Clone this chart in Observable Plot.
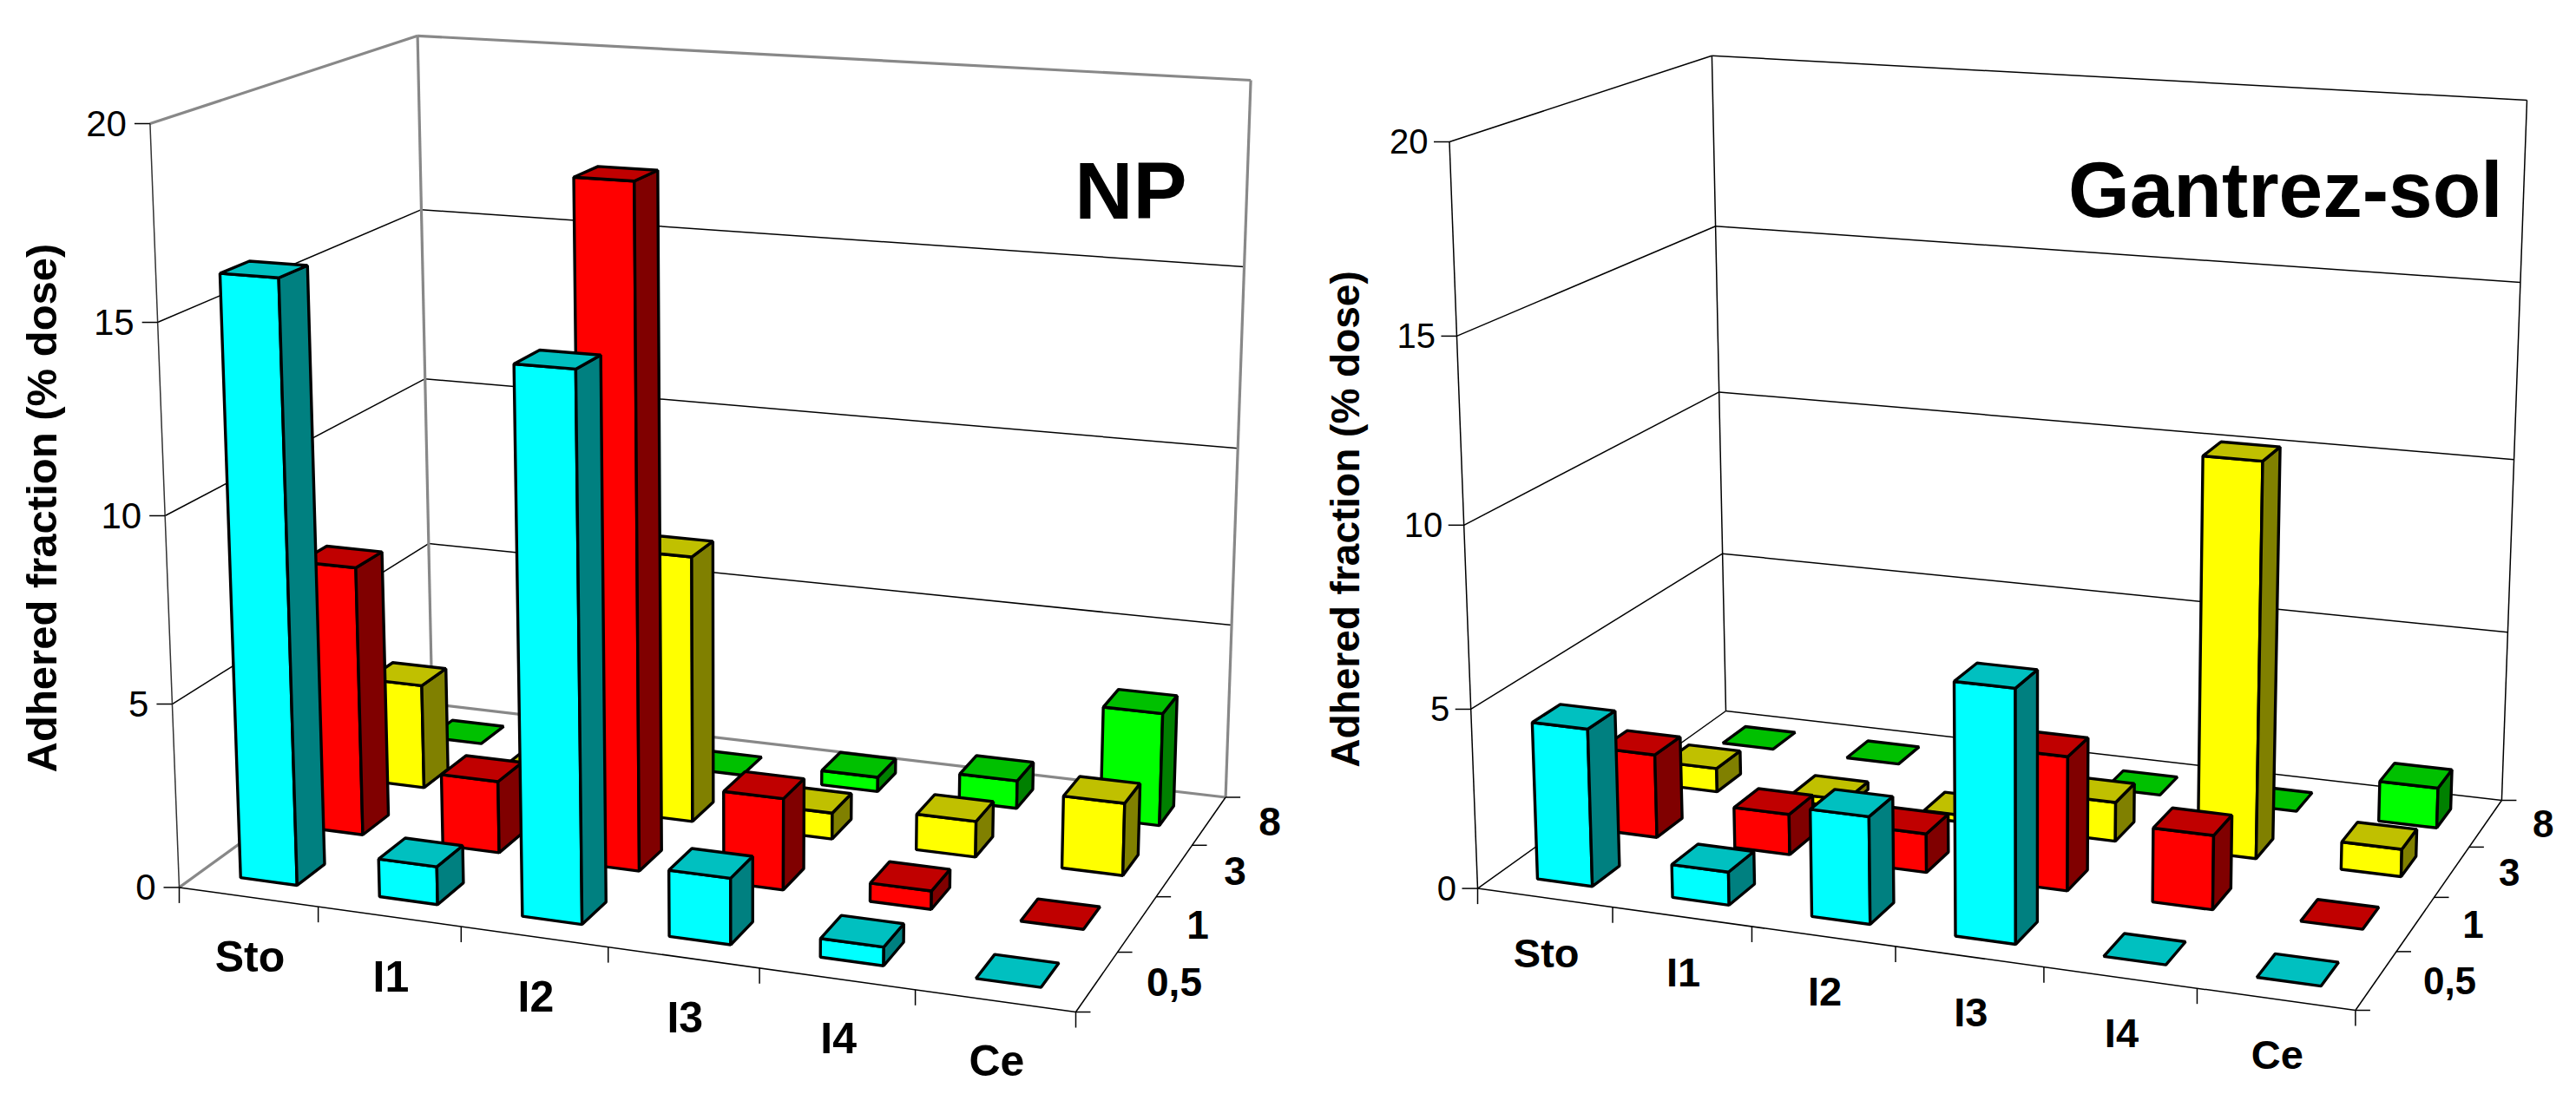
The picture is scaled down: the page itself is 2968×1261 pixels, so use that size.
<!DOCTYPE html>
<html>
<head>
<meta charset="utf-8">
<script src="https://cdn.jsdelivr.net/npm/d3@7"></script>
<script src="https://cdn.jsdelivr.net/npm/@observablehq/plot@0.6"></script>
<style>html,body{margin:0;padding:0;background:#fff}svg{display:block}</style>
</head>
<body>
<div id="chart"></div>
<script>
// ---- data (% dose) ----
const categories = ["Sto", "I1", "I2", "I3", "I4", "Ce"];
const depths = ["0,5", "1", "3", "8"];
const valueTicks = [0, 5, 10, 15, 20];
const yTitle = "Adhered fraction (% dose)";

const np05 = [16.1, 1.03, 14.4, 1.76, 0.49, 0];
const np1  = [7.5, 2.0, 18.35, 2.5, 0.5, 0];
const np3  = [3.0, 0.85, 7.5, 0.74, 1.0, 2.0];
const np8  = [0, 0, 0, 0.42, 0.8, 3.2];

const gs05 = [4.4, 0.92, 2.95, 6.85, 0, 0];
const gs1  = [2.4, 1.16, 1.1, 3.75, 2.06, 0];
const gs3  = [0.7, 0.23, 0.2, 1.13, 11.15, 0.78];
const gs8  = [0, 0, 0, 0, 0, 1.17];

// ---- face colours per depth row: front, top, side ----
const faces = [
  ["#00ffff", "#00c0c0", "#008080"],
  ["#ff0000", "#c00000", "#800000"],
  ["#ffff00", "#c0c000", "#808000"],
  ["#00ff00", "#00c000", "#008000"]
];

// ---- projective frame of each 3D box ----
// floor: front-left, front-right, back-right, back-left; top: front-left, back-right, back-left
function projector([A, B, C, D], [At, Ct, Dt], maxValue) {
  const sx = A[0] - B[0] + C[0] - D[0], sy = A[1] - B[1] + C[1] - D[1];
  const d1x = B[0] - C[0], d1y = B[1] - C[1], d2x = D[0] - C[0], d2y = D[1] - C[1];
  const det = d1x * d2y - d2x * d1y;
  const g = (sx * d2y - d2x * sy) / det, h = (d1x * sy - sx * d1y) / det;
  const wB = 1 + g, wC = 1 + g + h, wD = 1 + h;
  // top plane shares the floor's perspective, so its hidden corner follows from the other three
  const Bt = [0, 1].map((k) => (wC * Ct[k] - wD * Dt[k] + At[k]) / wB);
  const plane = (a, b, d, u, v) => [0, 1].map((k) =>
    (a[k] + u * (wB * b[k] - a[k]) + v * (wD * d[k] - a[k])) / (1 + g * u + h * v));
  const c = 1.055;
  return (u, v, value) => {
    const t = value / maxValue, f = t / (t + c * (1 - t));
    const p = plane(A, B, D, u, v), q = plane(At, Bt, Dt, u, v);
    return [p[0] + f * (q[0] - p[0]), p[1] + f * (q[1] - p[1])];
  };
}

const panels = [
  {
    title: "NP", rows: [np05, np1, np3, np8],
    floor: [[206, 1022.4], [1239, 1166], [1411.6, 918.5], [497.4, 811]],
    top: [[172.4, 142], [1440.6, 92], [480.6, 40.8]],
    wall: "#888", wallWidth: 3.2, axis: "#333",
    numSize: 42, catSize: 50, depthSize: 46, labelDy: 70, labelDx: 2, depthDx: 57, numDx: 27,
    titleX: 1367, titleY: 251, titleSize: 93,
    yTitleX: 64, yTitleY: 585, yTitleSize: 49
  },
  {
    title: "Gantrez-sol", rows: [gs05, gs1, gs3, gs8],
    floor: [[1702, 1023.6], [2713.4, 1164], [2881.9, 922], [1988, 819]],
    top: [[1669.5, 163], [2911, 115], [1971.9, 63.7]],
    wall: "#000", wallWidth: 1.5, axis: "#000",
    numSize: 40, catSize: 47, depthSize: 44, labelDy: 65, labelDx: 2, depthDx: 54, numDx: 24.5,
    titleX: 2883, titleY: 249, titleSize: 91,
    yTitleX: 1565, yTitleY: 598, yTitleSize: 46
  }
];

// ---- build mark data ----
const grid = [], walls = [], axes = [], polys = [];
const numLabels = [], catLabels = [], depthLabels = [], titles = [], yTitles = [];
const seg = (list, p, q, extra) => list.push({x1: p[0], y1: p[1], x2: q[0], y2: q[1], ...extra});
const barSize = 0.41;
let polyId = 0;

panels.forEach((pn) => {
  const P = projector(pn.floor, pn.top, 20);
  const style = {stroke: pn.wall, w: pn.wallWidth};
  const n = categories.length, m = depths.length;

  // gridlines on both walls
  valueTicks.slice(1, -1).forEach((val) => {
    seg(grid, P(0, 0, val), P(0, 1, val), {});
    seg(grid, P(0, 1, val), P(1, 1, val), {});
  });
  // wall outline
  seg(walls, P(0, 0, 0), P(0, 1, 0), style);
  seg(walls, P(0, 1, 0), P(1, 1, 0), style);
  seg(walls, P(0, 1, 0), P(0, 1, 20), style);
  seg(walls, P(1, 1, 0), P(1, 1, 20), style);
  seg(walls, P(0, 0, 20), P(0, 1, 20), style);
  seg(walls, P(0, 1, 20), P(1, 1, 20), style);
  seg(axes, P(0, 0, 0), P(0, 0, 20), {stroke: pn.axis});
  seg(axes, P(0, 0, 0), P(1, 0, 0), {stroke: "#000"});
  seg(axes, P(1, 0, 0), P(1, 1, 0), {stroke: "#000"});

  // ticks and labels
  valueTicks.forEach((val) => {
    const p = P(0, 0, val);
    seg(axes, p, [p[0] - 18, p[1]], {stroke: "#000"});
    numLabels.push({x: p[0] - pn.numDx, y: p[1] + 1, text: String(val), size: pn.numSize});
  });
  d3.range(n + 1).forEach((i) => {
    const p = P(i / n, 0, 0);
    seg(axes, p, [p[0], p[1] + 18], {stroke: "#000"});
  });
  categories.forEach((name, i) => {
    const p = P((i + 0.5) / n, 0, 0);
    catLabels.push({x: p[0] + pn.labelDx, y: p[1] + pn.labelDy, text: name, size: pn.catSize});
  });
  d3.range(m + 1).forEach((j) => {
    const p = P(1, j / m, 0);
    seg(axes, p, [p[0] + 17, p[1]], {stroke: "#000"});
  });
  depths.forEach((name, j) => {
    const p = P(1, (j + 0.5) / m, 0);
    depthLabels.push({x: p[0] + pn.depthDx, y: p[1] + 2, text: name, size: pn.depthSize});
  });
  titles.push({x: pn.titleX, y: pn.titleY, text: pn.title, size: pn.titleSize});
  yTitles.push({x: pn.yTitleX, y: pn.yTitleY, text: yTitle, size: pn.yTitleSize});

  // bars, painted back row first, left to right
  for (let j = m - 1; j >= 0; --j) {
    pn.rows[j].forEach((val, i) => {
      const du = barSize / n / 2, dv = barSize / m / 2;
      const u0 = (i + 0.5) / n - du, u1 = (i + 0.5) / n + du;
      const v0 = (j + 0.5) / m - dv, v1 = (j + 0.5) / m + dv;
      const poly = (pts, fill) => {
        const id = polyId++;
        pts.forEach((p) => polys.push({x: p[0], y: p[1], id, fill}));
      };
      if (val > 0) {
        poly([P(u0, v0, 0), P(u1, v0, 0), P(u1, v0, val), P(u0, v0, val)], faces[j][0]);
        poly([P(u1, v0, 0), P(u1, v1, 0), P(u1, v1, val), P(u1, v0, val)], faces[j][2]);
      }
      poly([P(u0, v0, val), P(u1, v0, val), P(u1, v1, val), P(u0, v1, val)], faces[j][1]);
    });
  }
});

const font = "'Liberation Sans', Arial, sans-serif";
const chart = Plot.plot({
  width: 2968, height: 1261,
  margin: 0,
  x: {domain: [0, 2968], range: [0, 2968], axis: null},
  y: {domain: [0, 1261], range: [0, 1261], axis: null},
  color: {type: "identity"},
  marks: [
    Plot.link(grid, {x1: "x1", y1: "y1", x2: "x2", y2: "y2", stroke: "#000", strokeWidth: 1.5}),
    Plot.link(walls, {x1: "x1", y1: "y1", x2: "x2", y2: "y2", stroke: "stroke", strokeWidth: "w"}),
    Plot.link(axes, {x1: "x1", y1: "y1", x2: "x2", y2: "y2", stroke: "stroke", strokeWidth: 1.5}),
    Plot.line(polys, {x: "x", y: "y", z: "id", fill: "fill", stroke: "#000", strokeWidth: 3.4,
      strokeLinejoin: "miter", curve: "linear-closed"}),
    Plot.text(numLabels, {x: "x", y: "y", text: "text", fontSize: "size", fontFamily: font,
      textAnchor: "end", lineAnchor: "middle", fill: "#000"}),
    Plot.text(catLabels, {x: "x", y: "y", text: "text", fontSize: "size", fontWeight: "bold", fontFamily: font,
      textAnchor: "middle", lineAnchor: "middle", fill: "#000"}),
    Plot.text(depthLabels, {x: "x", y: "y", text: "text", fontSize: "size", fontWeight: "bold", fontFamily: font,
      textAnchor: "start", lineAnchor: "middle", fill: "#000"}),
    Plot.text(titles, {x: "x", y: "y", text: "text", fontSize: "size", fontWeight: "bold", fontFamily: font,
      textAnchor: "end", lineAnchor: "bottom", fill: "#000"}),
    Plot.text(yTitles, {x: "x", y: "y", text: "text", fontSize: "size", fontWeight: "bold", fontFamily: font,
      rotate: -90, textAnchor: "middle", lineAnchor: "bottom", fill: "#000"})
  ]
});
document.getElementById("chart").appendChild(chart);
</script>
</body>
</html>
